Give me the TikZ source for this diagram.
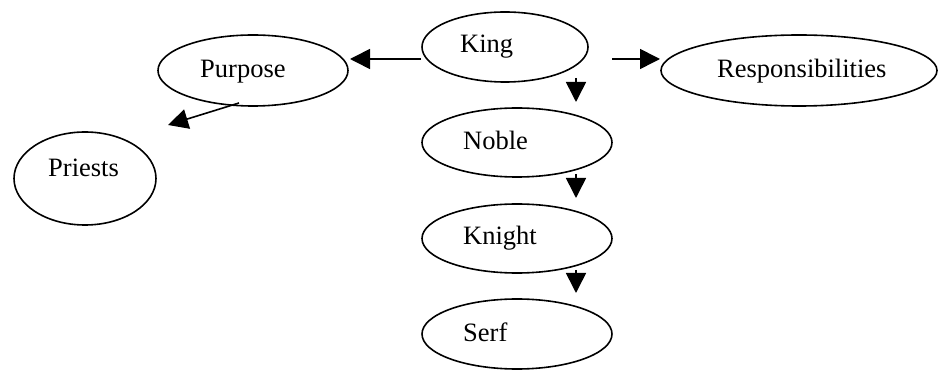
\documentclass[tikz,border=0pt]{standalone}
\usepackage{fontspec}
\setmainfont{Liberation Serif}
\usetikzlibrary{arrows.meta,shapes.geometric}
\tikzset{
  oval/.style={draw=black, line width=1.6pt, ellipse, inner sep=0pt},
  lbl/.style={anchor=base west, inner sep=0pt, font=\fontsize{26.5}{30}\selectfont},
  conn/.style={draw=black, line width=1.6pt, -{Triangle[length=20pt,width=20pt]}}
}
\begin{document}
\begin{tikzpicture}[x=1pt,y=-1pt]
\useasboundingbox (0,0) rectangle (938,371);
% ellipses
\node[oval, minimum width=166pt, minimum height=70pt] (king) at (505,47) {};
\node[oval, minimum width=190pt, minimum height=71pt] (purpose) at (253,70.5) {};
\node[oval, minimum width=276pt, minimum height=71pt] (resp) at (799,70.5) {};
\node[oval, minimum width=190pt, minimum height=69pt] (noble) at (517,142.5) {};
\node[oval, minimum width=142pt, minimum height=93pt] (priests) at (85,178.5) {};
\node[oval, minimum width=190pt, minimum height=69pt] (knight) at (517,238.5) {};
\node[oval, minimum width=190pt, minimum height=70pt] (serf) at (517,334) {};
% labels
\node[lbl] (kingtxt) at (460,53) {King};
\node[lbl] (purposetxt) at (200,78) {Purpose};
\node[lbl] (resptxt) at (717,78) {Responsibilities};
\node[lbl] (nobletxt) at (463,150) {Noble};
\node[lbl] (prieststxt) at (48,177) {Priests};
\node[lbl] (knighttxt) at (463,245) {Knight};
\node[lbl] (serftxt) at (463,342) {Serf};
% connector end points
\coordinate (kpA) at (421,59);
\coordinate (kpB) at (350,59);
\coordinate (krA) at (612,59);
\coordinate (krB) at (660,59);
\coordinate (knA) at (576,78);
\coordinate (knB) at (576,102);
\coordinate (nkA) at (576,174);
\coordinate (nkB) at (576,198);
\coordinate (ksA) at (576,270);
\coordinate (ksB) at (576,293);
\coordinate (ppA) at (239,103);
\coordinate (ppB) at (168,125);
% connectors
\draw[conn] (kpA) -- (kpB);
\draw[conn] (krA) -- (krB);
\draw[conn] (knA) -- (knB);
\draw[conn] (nkA) -- (nkB);
\draw[conn] (ksA) -- (ksB);
\draw[conn] (ppA) -- (ppB);
\end{tikzpicture}
\end{document}
